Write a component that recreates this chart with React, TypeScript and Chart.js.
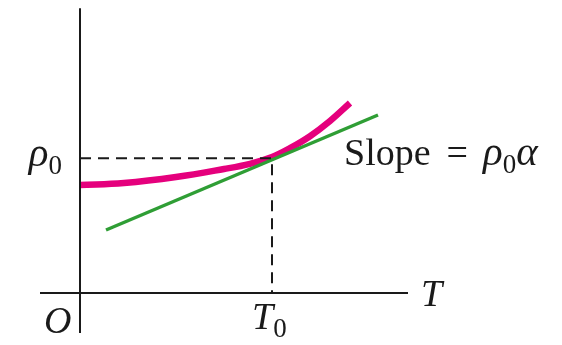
import React, { useEffect, useRef } from "react";
import { Chart, registerables } from "chart.js";
Chart.register(...registerables);

// Data (arbitrary units: T horizontal, rho vertical)
const T0 = 4.8;
const RHO0 = 3.37;
const curveT = [0, 1.1, 2.4, 3.6, 4.25, 4.8, 5.25, 5.75, 6.25, 6.75];
const curveRho = [2.7, 2.75, 2.9, 3.1, 3.23, 3.4, 3.62, 3.92, 4.3, 4.75];
const tangentT = [0.65, 7.45];
const tangentRho = [1.575, 4.45];
const axisTExtent = [-1.0, 8.2];
const axisRhoExtent = [-1.0, 7.12];

const MAGENTA = "#e5007d";
const GREEN = "#2f9e35";
const INK = "#1a1a1a";
const SERIF = "'Liberation Serif', 'DejaVu Serif', serif";

type Part = { text: string; italic?: boolean; sub?: boolean; gap?: number; scale?: number };

function drawRich(ctx: CanvasRenderingContext2D, x: number, y: number, parts: Part[], size: number, align: "left" | "right" = "left") {
  const subSize = Math.round(size * 0.7);
  const fontOf = (p: Part) => `${p.italic ? "italic " : ""}${Math.round((p.sub ? subSize : size) * (p.scale || 1))}px ${SERIF}`;
  let total = 0;
  for (const p of parts) {
    ctx.font = fontOf(p);
    total += ctx.measureText(p.text).width + (p.gap || 0);
  }
  let cx = align === "right" ? x - total : x;
  ctx.fillStyle = INK;
  ctx.textBaseline = "alphabetic";
  ctx.textAlign = "left";
  for (const p of parts) {
    ctx.font = fontOf(p);
    ctx.fillText(p.text, cx, p.sub ? y + size * 0.2 : y);
    cx += ctx.measureText(p.text).width + (p.gap || 0);
  }
}

const labelPlugin = {
  id: "labels",
  afterDatasetsDraw(chart: any) {
    const { ctx, scales } = chart;
    const xs = scales.x;
    const ys = scales.y;
    const ox = xs.getPixelForValue(0);
    const oy = ys.getPixelForValue(0);
    const t0x = xs.getPixelForValue(T0);
    const r0y = ys.getPixelForValue(RHO0);
    const tEnd = xs.getPixelForValue(axisTExtent[1]);
    ctx.save();
    drawRich(ctx, ox - 18, r0y + 8, [{ text: "ρ", italic: true, scale: 1.08 }, { text: "0", sub: true }], 38, "right");
    drawRich(ctx, t0x + 72, r0y + 7, [
      { text: "Slope", gap: 16 },
      { text: "=", gap: 15 },
      { text: "ρ", italic: true, scale: 1.08 },
      { text: "0", sub: true },
      { text: "α", italic: true, scale: 1.08 },
    ], 38);
    drawRich(ctx, ox - 36, oy + 40, [{ text: "O", italic: true }], 38);
    drawRich(ctx, t0x - 20, oy + 36, [{ text: "T", italic: true }, { text: "0", sub: true }], 38);
    drawRich(ctx, tEnd + 13, oy + 13, [{ text: "T", italic: true }], 38);
    ctx.restore();
  },
};

export default function App() {
  const ref = useRef<HTMLCanvasElement | null>(null);
  useEffect(() => {
    if (!ref.current) return;
    const pts = (xs: number[], ys: number[]) => xs.map((x, i) => ({ x, y: ys[i] }));
    const chart = new Chart(ref.current, {
      type: "line",
      data: {
        datasets: [
          {
            data: pts(axisTExtent, [0, 0]),
            borderColor: INK,
            borderWidth: 2,
            pointRadius: 0,
          },
          {
            data: pts([0, 0], axisRhoExtent),
            borderColor: INK,
            borderWidth: 2,
            pointRadius: 0,
          },
          {
            data: pts([0, T0, T0], [RHO0, RHO0, 0]),
            borderColor: INK,
            borderWidth: 2,
            borderDash: [11, 7],
            pointRadius: 0,
          },
          {
            data: pts(tangentT, tangentRho),
            borderColor: GREEN,
            borderWidth: 3.5,
            pointRadius: 0,
          },
          {
            data: pts(curveT, curveRho),
            borderColor: MAGENTA,
            borderWidth: 6.5,
            pointRadius: 0,
            tension: 0.4,
          },
        ],
      },
      options: {
        responsive: false,
        animation: false,
        events: [],
        layout: { padding: 0 },
        plugins: { legend: { display: false }, tooltip: { enabled: false } },
        scales: {
          x: { type: "linear", min: -2, max: 12.05, display: false },
          y: { type: "linear", min: -1.3, max: 7.325, display: false },
        },
        datasets: { line: { clip: false } },
      } as any,
      plugins: [labelPlugin],
    });
    return () => chart.destroy();
  }, []);
  return (
    <div style={{ position: "absolute", left: 0, top: 0, width: 562, height: 345, background: "#fff" }}>
      <canvas ref={ref} width={562} height={345} />
    </div>
  );
}
